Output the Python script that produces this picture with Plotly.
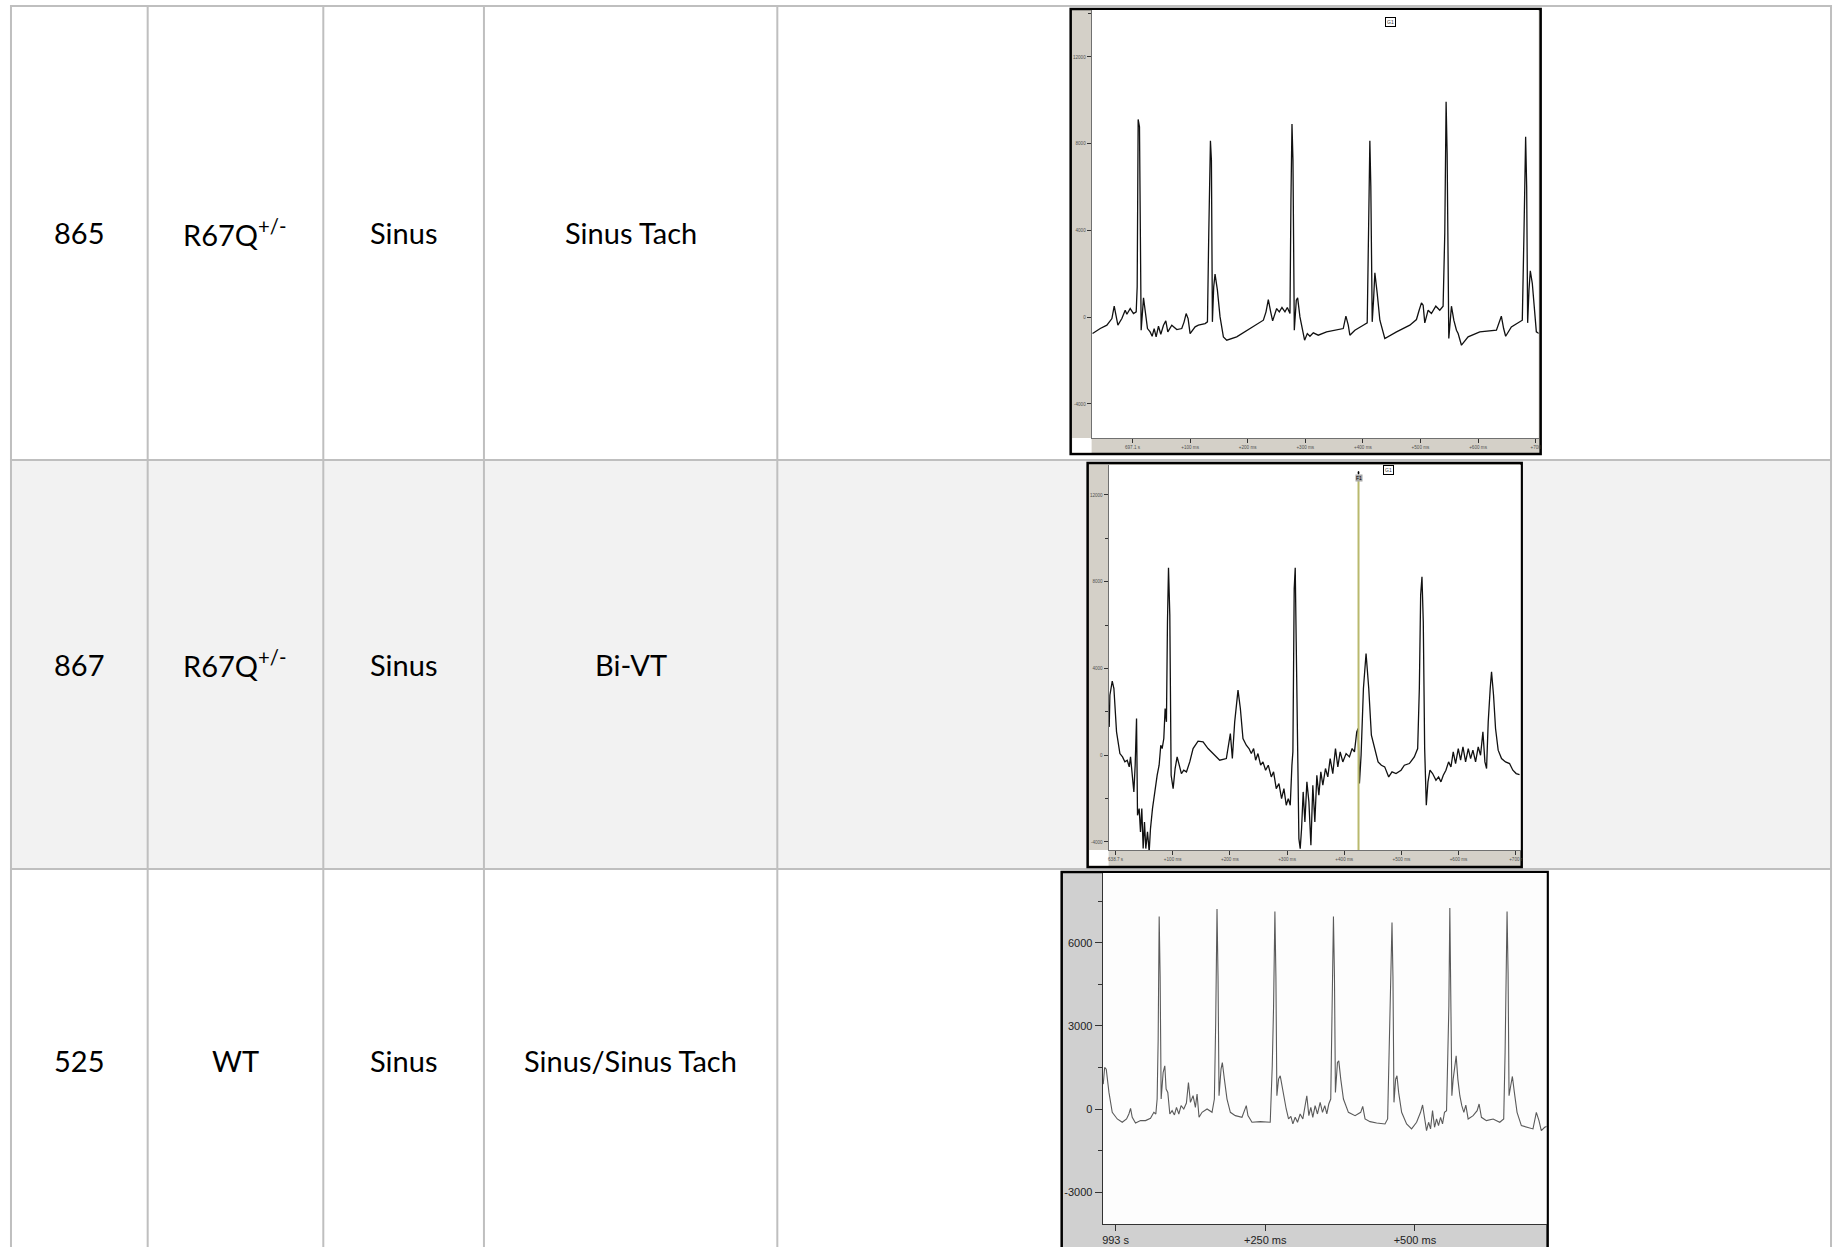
import plotly.graph_objects as go

W, H = 1841, 1247

# ---------------- table content ----------------
mouse_ids = ["865", "867", "525"]
genotypes = ["R67Q<sup>+/-</sup>", "R67Q<sup>+/-</sup>", "WT"]
baseline_rhythm = ["Sinus", "Sinus", "Sinus"]
challenge_rhythm = ["Sinus Tach", "Bi-VT", "Sinus/Sinus Tach"]

# ---------------- ECG 865 (ms, amplitude) ----------------
ecg865_t = [-69.4, -56, -44.5, -35.8, -31.8, -28.3, -25.4, -18.5, -12.7, -9.8, -4.0, 1.7, 6.4, 8.1, 9.8,
            12.1, 13.9, 15.0, 19.1, 22.5, 26.0, 30.6, 34.1, 37.6, 41.0, 45.1, 49.1, 53.8, 57.8, 61.3,
            68.2, 76.9, 85.5, 89.6, 93.1, 96.5, 100.0, 108.7, 114.4, 126.0, 130.1, 132.4, 135.3, 137.0,
            138.7, 141.0, 143.3, 147.4, 152.0, 157.8, 163.6, 180.9, 204.0, 227.2, 231.8, 235.8, 239.9,
            243.3, 250.3, 254.9, 259.5, 264.7, 268.8, 273.4, 275.1, 276.9, 278.6, 280.9, 284.4, 286.7,
            290.7, 295.4, 298.8, 303.5, 308.1, 313.9, 322.5, 337.0, 354.3, 365.9, 370.5, 374.6, 377.4,
            386.1, 400.6, 407.5, 409.8, 412.1, 413.8, 416.2, 418.5, 420.8, 424.9, 429.5, 438.1, 458.4,
            481.5, 493.0, 497.7, 501.7, 504.6, 507.5, 513.3, 519.0, 526.6, 533.5, 539.3, 542.2, 544.5,
            546.3, 549.2, 552.1, 553.8, 557.9, 562.5, 565.4, 571.2, 582.7, 603.0, 631.9, 637.5, 640.4,
            644.4, 647.9, 657.8, 669.3, 676.8, 679.7, 682.6, 684.4, 686.1, 688.4, 690.7, 694.2, 697.7,
            701.2, 705.8]
ecg865_v = [-754, -523, -369, -62, 508, 92, -369, -62, 323, 138, 400, 169, 246, 1400, 9120,
            8780, 1246, -600, 892, 169, -523, -677, -877, -523, -907, -415, -784, -369, -169, -677,
            -369, -569, -523, -215, 169, -62, -754, -446, -369, -292, -215, 3860, 8136, 7244,
            -215, 1400, 1984, 1246, 15, -907, -1061, -907, -523, -138, 246, 815, 246,
            -169, 400, 246, 446, 246, 446, 169, 5400, 8905, 7244, -600, 784, 892,
            15, -600, -1061, -754, -877, -723, -830, -677, -600, -523, 46, -369, -830,
            -600, -369, -261, 3860, 8136, 6013, -215, 784, 2045, 1092, -138, -984, -677,
            -369, -108, 323, 661, 554, -261, 323, 169, 508, 323, 508, 3860, 9935,
            7550, -984, 323, 508, -138, -600, -754, -1292, -907, -677, -600, -215, 46,
            -523, -877, -446, -261, -138, 3860, 8320, 6013, -261, 1246, 2138, 1553, 323,
            -677, -754]
ecg865_xticks = [0, 100, 200, 300, 400, 500, 600, 700]
ecg865_xlabels = ["697.1 s", "+100 ms", "+200 ms", "+300 ms", "+400 ms", "+500 ms", "+600 ms", "+700"]

# ---------------- ECG 867 ----------------
ecg867_t = [-11.1, -9.9, -5.8, -2.9, 1.7, 7.6, 12.2, 16.3, 20.4, 23.9, 26.2, 29.1, 32.0, 34.3, 36.7,
            38.4, 41.3, 43.6, 45.9, 48.3, 50.6, 52.9, 55.9, 58.8, 61.1, 64.6, 67.5, 70.4, 72.8, 76.2,
            79.1, 81.5, 84.4, 86.7, 89.0, 90.8, 92.6, 94.9, 97.2, 100.7, 104.2, 107.7, 111.2, 115.2,
            119.3, 124.0, 129.8, 135.6, 144.3, 153.1, 161.8, 173.4, 182.2, 193.8, 197.9, 200.8, 204.3,
            208.4, 214.2, 218.3, 222.9, 228.7, 233.4, 237.5, 241.5, 245.0, 249.1, 253.8, 257.8, 262.5,
            267.1, 272.4, 276.4, 281.1, 285.8, 290.4, 294.5, 298.6, 302.1, 305.6, 308.5, 310.2, 312.5,
            314.3, 316.0, 318.4, 320.7, 323.0, 325.4, 328.2, 331.2, 334.7, 338.2, 341.7, 345.1, 348.6,
            352.1, 355.6, 359.1, 362.6, 367.2, 371.3, 375.4, 380.0, 384.7, 388.8, 392.9, 397.5, 403.3,
            409.1, 413.8, 417.9, 421.9, 424.3, 426.6, 429.5, 433.6, 438.2, 442.9, 447.5, 453.4, 459.2,
            465.0, 470.8, 477.8, 483.6, 490.6, 499.4, 505.2, 513.9, 522.6, 528.5, 531.4, 533.7, 536.0,
            538.3, 540.7, 543.6, 546.5, 550.0, 554.6, 560.5, 565.1, 569.2, 573.3, 577.9, 582.6, 586.7,
            590.7, 594.8, 599.5, 603.6, 607.7, 612.3, 617.0, 621.1, 625.1, 629.8, 634.4, 638.5, 642.6,
            646.1, 649.0, 651.9, 655.4, 657.7, 661.2, 664.7, 669.3, 675.2, 682.2, 689.2, 695.0, 700.8,
            706.7]
ecg867_v = [1307, 2768, 3414, 3076, 1077, 77, -77, -308, -231, -538, -77, -769, -1692, -461, 1692,
            -2768, -2461, -3537, -2461, -4306, -3076, -4306, -3537, -4460, -3383, -2461, -1846, -1384, -923, -461,
            461, 308, 769, 2153, 1538, 6152, 8643, 6460, -923, -1538, -615, -77, -461, -846,
            -692, -769, -308, 308, 646, 615, 308, 0, -231, -154, 461, 1000, -154,
            1538, 2999, 2153, 769, 461, 308, 77, 308, -231, 77, -461, -308, -692,
            -461, -1000, -769, -1538, -1307, -2000, -1538, -2307, -2000, -2307, -461, 154, 7690,
            8643, 5229, -615, -3845, -4306, -3383, -1692, -3076, -1230, -2153, -4152, -1384, -3076,
            -923, -1846, -769, -1384, -615, -1000, -154, -846, 308, -538, 154, -308, 77,
            -77, 308, 154, 1077, 1230, -1307, 0, 3076, 4691, 3076, 923, 308, -308,
            -461, -538, -1000, -769, -846, -692, -461, -385, -77, 308, 3076, 7382, 8228,
            6152, 308, -2307, -1230, -692, -846, -1154, -1000, -1230, -923, -692, -308, -538,
            154, -385, 308, -231, 385, -308, 308, -154, 231, -308, 385, 0, 1077,
            -308, -615, 1538, 3076, 3845, 2768, 1230, 231, -154, -308, -385, -692, -846,
            -892]
ecg867_xticks = [0, 100, 200, 300, 400, 500, 600, 700]
ecg867_xlabels = ["638.7 s", "+100 ms", "+200 ms", "+300 ms", "+400 ms", "+500 ms", "+600 ms", "+700 r"]
ecg867_marker_t = 425

# ---------------- ECG 525 ----------------
ecg525_t = [-20.6, -18.3, -15.6, -11.1, -5.6, 2.8, 11.1, 18.3, 22.2, 25.0, 27.8, 33.3, 41.7, 50.0, 58.3,
            63.9, 67.2, 69.4, 71.1, 72.8, 74.4, 76.1, 79.4, 82.2, 84.4, 87.2, 90.6, 94.4, 98.3, 101.7,
            105.6, 109.4, 113.9, 118.3, 121.7, 125.0, 129.4, 133.3, 136.1, 139.4, 144.4, 152.8, 161.1,
            165.0, 167.2, 169.4, 171.1, 172.8, 176.1, 178.3, 181.7, 186.1, 191.7, 200.0, 211.1, 218.3,
            221.1, 227.8, 241.7, 258.3, 261.7, 263.9, 266.1, 267.8, 269.4, 272.2, 275.0, 279.4, 285.0,
            288.9, 292.8, 296.1, 300.0, 303.9, 308.3, 312.8, 316.7, 319.4, 322.8, 326.1, 329.4, 333.3,
            337.2, 341.7, 345.6, 349.4, 352.8, 356.1, 359.4, 361.7, 363.9, 365.6, 367.2, 370.6, 372.8,
            376.1, 380.6, 388.9, 400.0, 409.4, 412.8, 416.7, 425.0, 436.1, 450.0, 454.4, 457.2, 459.4,
            461.7, 463.3, 465.0, 467.8, 470.0, 472.8, 477.8, 486.1, 494.4, 502.8, 509.4, 512.8, 516.1,
            519.4, 522.8, 526.1, 529.4, 532.8, 536.1, 539.4, 542.8, 546.1, 549.4, 552.8, 555.0, 556.7,
            558.3, 560.0, 561.7, 563.9, 566.7, 568.9, 571.7, 575.0, 578.3, 581.7, 585.0, 588.9, 597.2,
            603.9, 607.2, 611.1, 619.4, 630.6, 641.7, 648.3, 650.6, 652.2, 653.9, 655.6, 657.2, 660.0,
            662.8, 666.1, 670.6, 677.8, 686.1, 697.2, 702.8, 707.2, 711.1, 716.7, 721.1]
ecg525_v = [900, 1500, 1440, 600, -120, -360, -480, -360, -180, 24, -300, -504, -420, -420, -336,
            -120, -180, 360, 2520, 6960, 4800, 360, 1320, 1560, 720, 600, -180, -60, -216, 60,
            -180, 120, 0, 216, 960, 240, 480, 60, 540, -300, -120, 0, -120,
            360, 3120, 7224, 4800, 480, 1440, 1680, 1080, 360, -120, -240, -300, 120,
            -240, -480, -456, -480, 1560, 3720, 7140, 4800, 480, 1080, 1200, 600, 0,
            -360, -264, -540, -300, -480, -180, -360, 120, 480, -240, 60, -300, 120,
            -180, 240, -120, 120, -180, 180, 360, 3000, 6960, 4800, 600, 1680, 1740,
            1080, 360, -120, -240, -120, 96, -360, -456, -504, -540, -360, 2520, 3960,
            6744, 4800, 240, 1080, 1200, 600, -120, -540, -720, -480, -120, 144, -360,
            -780, -480, -720, -60, -660, -360, -600, -300, -540, -120, -60, 2040, 3720,
            7260, 4680, 480, 1080, 1680, 1920, 1080, 480, 120, -120, 144, -360, -240,
            -60, 180, -300, -420, -360, -480, -360, 2040, 4560, 7140, 4920, 480, 840,
            1176, 600, -120, -600, -660, -720, -120, -420, -780, -660, -624]
ecg525_xticks = [0, 250, 500]
ecg525_xlabels = ["993 s", "+250 ms", "+500 ms"]
ecg525_yticks = [-3000, 0, 3000, 6000]
ecg525_ylabels = ["-3000", "0", "3000", "6000"]
ecg525_yminor = [-1500, 1500, 4500, 7500]

ecg86x_yticks = [-4000, 0, 4000, 8000, 12000]
ecg86x_ylabels = ["-4000", "0", "4000", "8000", "12000"]


def fx(px):
    return px / W


def fy(py):
    return 1 - py / H


fig = go.Figure()

fig.add_trace(go.Scatter(x=ecg865_t, y=ecg865_v, mode="lines", xaxis="x", yaxis="y",
                         line=dict(color="#111111", width=1.3), hoverinfo="skip"))
fig.add_trace(go.Scatter(x=ecg867_t, y=ecg867_v, mode="lines", xaxis="x2", yaxis="y2",
                         line=dict(color="#111111", width=1.3), hoverinfo="skip"))
fig.add_trace(go.Scatter(x=ecg525_t, y=ecg525_v, mode="lines", xaxis="x3", yaxis="y3",
                         line=dict(color="#5a5a5a", width=1.1), hoverinfo="skip"))

small_tick_font = dict(family="Liberation Sans, Arial", size=4.6, color="#505050")
ax_common = dict(showgrid=False, zeroline=False, showline=True, linecolor="#707070",
                 linewidth=1, ticks="outside", tickcolor="#333333", tickwidth=1, fixedrange=True)

# ---------------- shapes (table and picture frames) ----------------
shapes = []
grid_col = "#bfbfbf"
col_x = [10, 147, 323, 484, 778, 1834]
row_y = [6, 460, 869]
shapes.append(dict(type="rect", xref="paper", yref="paper", x0=fx(col_x[0]), x1=fx(col_x[-1]),
                   y0=fy(row_y[2]), y1=fy(row_y[1]), fillcolor="#f2f2f2", line=dict(width=0), layer="below"))
for yy in row_y:
    shapes.append(dict(type="line", xref="paper", yref="paper", x0=fx(col_x[0] - 1), x1=fx(col_x[-1] + 1),
                       y0=fy(yy), y1=fy(yy), line=dict(color=grid_col, width=2), layer="below"))
for xx in col_x:
    shapes.append(dict(type="line", xref="paper", yref="paper", x0=fx(xx), x1=fx(xx),
                       y0=fy(row_y[0]), y1=fy(H + 5), line=dict(color=grid_col, width=2), layer="below"))


def frame(x0, y0, x1, y1, px0, py0, px1, py1, gray, plotbg, corner=None):
    shapes.append(dict(type="rect", xref="paper", yref="paper", x0=fx(x0), x1=fx(x1), y0=fy(y1), y1=fy(y0),
                       fillcolor=gray, line=dict(color="black", width=2.5), layer="below"))
    shapes.append(dict(type="rect", xref="paper", yref="paper", x0=fx(px0), x1=fx(px1), y0=fy(py1), y1=fy(py0),
                       fillcolor=plotbg, line=dict(width=0), layer="below"))
    if corner:
        cx0, cy0, cx1, cy1 = corner
        shapes.append(dict(type="rect", xref="paper", yref="paper", x0=fx(cx0), x1=fx(cx1), y0=fy(cy1),
                           y1=fy(cy0), fillcolor="white", line=dict(width=0), layer="below"))


frame(1072, 9, 1543, 454, 1093, 10, 1541, 438, "#d4d0c8", "white", (1073.5, 438, 1093, 452.5))
frame(1089, 463, 1524, 867, 1110, 465, 1523, 850, "#d4d0c8", "white", (1090.5, 850, 1110, 865.5))
frame(1063, 872, 1550, 1260, 1104, 873, 1549, 1224, "#d0d0d0", "#fdfdfd")

# event marker in ECG 867
shapes.append(dict(type="line", xref="x2", yref="paper", x0=ecg867_marker_t, x1=ecg867_marker_t,
                   y0=fy(850), y1=fy(481), line=dict(color="#b9b96e", width=2)))
shapes.append(dict(type="circle", xref="x2", yref="paper", x0=ecg867_marker_t - 1.6, x1=ecg867_marker_t + 1.6,
                   y0=fy(474.5), y1=fy(471), fillcolor="black", line=dict(width=0)))

annotations = []
text_font = dict(family="Lato, Carlito, Calibri, sans-serif", size=29, color="black")
col_centers = [(col_x[i] + col_x[i + 1]) / 2 for i in range(4)]
row_centers = [233, 664, 1060]
for r in range(3):
    vals = [mouse_ids[r], genotypes[r], baseline_rhythm[r], challenge_rhythm[r]]
    for c in range(4):
        annotations.append(dict(x=fx(col_centers[c]), y=fy(row_centers[r]), xref="paper", yref="paper",
                                text=vals[c], showarrow=False, font=text_font, xanchor="center",
                                yanchor="middle"))

tiny = dict(family="Liberation Sans, Arial", size=5, color="#333333")
annotations.append(dict(x=fx(1398), y=fy(17), xref="paper", yref="paper", text="G1", showarrow=False,
                        font=tiny, bordercolor="black", borderwidth=1, bgcolor="white", borderpad=1))
annotations.append(dict(x=fx(1396), y=fy(470), xref="paper", yref="paper", text="G1", showarrow=False,
                        font=tiny, bordercolor="black", borderwidth=1, bgcolor="white", borderpad=1))
annotations.append(dict(x=ecg867_marker_t, y=fy(478), xref="x2", yref="paper", text="F1", showarrow=False,
                        font=dict(family="Liberation Sans, Arial", size=5, color="black"),
                        bgcolor="#a8a8a8", borderpad=0))

fig.update_layout(
    width=W, height=H,
    margin=dict(l=0, r=0, t=0, b=0),
    paper_bgcolor="white",
    plot_bgcolor="rgba(0,0,0,0)",
    showlegend=False,
    shapes=shapes,
    annotations=annotations,
    xaxis=dict(domain=[fx(1093), fx(1541)], range=[-71.0, 705.2], anchor="y",
               tickvals=ecg865_xticks, ticktext=ecg865_xlabels, ticklen=4, tickfont=small_tick_font, **ax_common),
    yaxis=dict(domain=[fy(438), fy(10)], range=[-5570, 14165], anchor="x",
               tickvals=ecg86x_yticks, ticktext=ecg86x_ylabels, ticklen=4, tickfont=small_tick_font,
               minor=dict(tickvals=[14000], ticks="outside", ticklen=3, tickcolor="#333333"), **ax_common),
    xaxis2=dict(domain=[fx(1110), fx(1523)], range=[-12.2, 708.7], anchor="y2",
                tickvals=ecg867_xticks, ticktext=ecg867_xlabels, ticklen=4, tickfont=small_tick_font, **ax_common),
    yaxis2=dict(domain=[fy(850), fy(465)], range=[-4371, 13383], anchor="x2",
                tickvals=ecg86x_yticks, ticktext=ecg86x_ylabels, ticklen=4, tickfont=small_tick_font,
                minor=dict(tickvals=[-2000, 2000, 6000, 10000], ticks="outside", ticklen=3, tickcolor="#333333"),
                **ax_common),
    xaxis3=dict(domain=[fx(1104), fx(1549)], range=[-21.7, 720], anchor="y3",
                tickvals=ecg525_xticks, ticktext=ecg525_xlabels, ticklen=6,
                tickfont=dict(family="Liberation Sans, Arial", size=11, color="#222222"),
                **{**ax_common, "linecolor": "#333333"}),
    yaxis3=dict(domain=[fy(1224), fy(873)], range=[-4156, 8529], anchor="x3",
                tickvals=ecg525_yticks, ticktext=ecg525_ylabels, ticklen=7,
                tickfont=dict(family="Liberation Sans, Arial", size=11, color="#222222"),
                minor=dict(tickvals=ecg525_yminor, ticks="outside", ticklen=4, tickcolor="#333333"),
                **{**ax_common, "linecolor": "#333333"}),
)

post = ("document.documentElement.style.margin='0';document.body.style.margin='0';"
        "document.documentElement.style.overflow='hidden';document.body.style.overflow='hidden';"
        "var gd=document.getElementById('{plot_id}');gd.style.overflow='hidden';"
        "document.querySelectorAll('.svg-container').forEach(function(e){e.style.display='block';});")
fig.write_html("out.html", config={"displayModeBar": False}, post_script=post)
